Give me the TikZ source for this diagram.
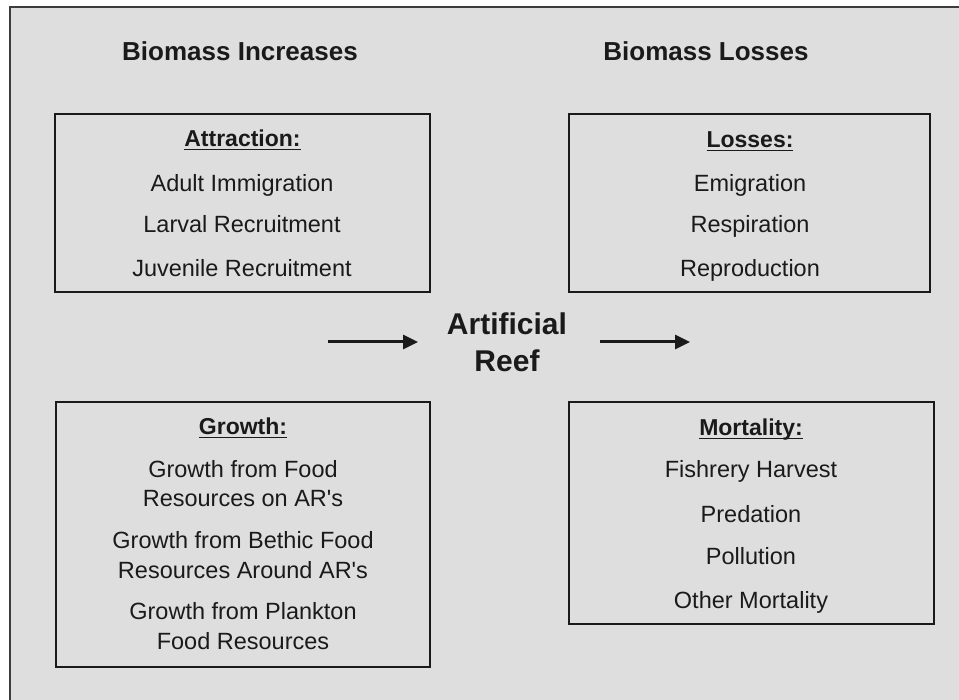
\documentclass[tikz,border=0pt]{standalone}
\usepackage{fontspec}
\setmainfont{Liberation Sans}[Ligatures=TeXOff]
\usetikzlibrary{arrows.meta}
\definecolor{bg}{HTML}{DEDEDE}
\definecolor{ink}{HTML}{1A1A1A}
\newcommand\ulhead[1]{\setbox0\hbox{#1}\rlap{\rule[-3.5pt]{\wd0}{1.6pt}}\box0}
\tikzset{
  boxr/.style={draw=ink, line width=2pt, minimum width=#1, inner sep=0pt},
  body/.style={font=\fontsize{23.5}{29.5}\selectfont, text=ink, anchor=base, inner sep=0pt, align=center},
  head/.style={font=\fontsize{23}{29}\selectfont\bfseries, text=ink, anchor=base, inner sep=0pt},
  title/.style={font=\fontsize{26}{30}\selectfont\bfseries, text=ink, anchor=base, inner sep=0pt},
  reef/.style={font=\fontsize{30}{37}\selectfont\bfseries, text=ink, anchor=base, inner sep=0pt, align=center},
  arr/.style={draw=ink, line width=3pt, -{Triangle[length=15pt,width=14pt]}}
}
\begin{document}
\begin{tikzpicture}[x=1pt,y=-1pt]
\useasboundingbox (0,0) rectangle (959,700);
\fill[white] (0,0) rectangle (959,700);
\fill[bg] (10,7) rectangle (959,700);
\draw[draw=ink!85, line width=2.5pt] (10,700) -- (10,7) -- (959,7);

% titles
\node[title] (t1) at (240,61) {Biomass Increases};
\node[title] (t2) at (706,61) {Biomass Losses};

% boxes
\node[boxr=375pt, minimum height=178pt] (attr) at (242.5,203) {};
\node[boxr=361pt, minimum height=178pt] (loss) at (749.5,203) {};
\node[boxr=374pt, minimum height=265pt] (grow) at (243,534.5) {};
\node[boxr=365pt, minimum height=222pt] (mort) at (751.5,513) {};

% attraction
\node[head] (h1) at (242.5,147) {\ulhead{Attraction:}};
\node[body] (a1) at (242,192) {Adult Immigration};
\node[body] (a2) at (242,233) {Larval Recruitment};
\node[body] (a3) at (242,277) {Juvenile Recruitment};

% losses
\node[head] (h2) at (750,148) {\ulhead{Losses:}};
\node[body] (l1) at (750,192) {Emigration};
\node[body] (l2) at (750,233) {Respiration};
\node[body] (l3) at (750,277) {Reproduction};

% growth (base = last line)
\node[head] (h3) at (243,435) {\ulhead{Growth:}};
\node[body] (g1) at (243,507) {Growth from Food\\Resources on AR's};
\node[body] (g2) at (243,578) {Growth from Bethic Food\\Resources Around AR's};
\node[body] (g3) at (243,649) {Growth from Plankton\\Food Resources};

% mortality
\node[head] (h4) at (751,436) {\ulhead{Mortality:}};
\node[body] (m1) at (751,478) {Fishrery Harvest};
\node[body] (m2) at (751,522) {Predation};
\node[body] (m3) at (751,564) {Pollution};
\node[body] (m4) at (751,608) {Other Mortality};

% center
\node[reef] (reef) at (507,372) {Artificial\\Reef};
\coordinate (inL) at (328,342);
\coordinate (inR) at (418,342);
\coordinate (outL) at (600,342);
\coordinate (outR) at (690,342);
\draw[arr] (inL) -- (inR);
\draw[arr] (outL) -- (outR);
\end{tikzpicture}
\end{document}
